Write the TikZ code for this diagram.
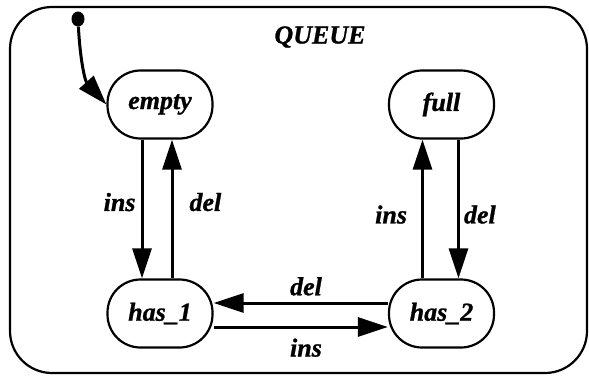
\documentclass[tikz,border=0pt]{standalone}
\usepackage{fontspec}
\setmainfont{Liberation Serif}[BoldItalicFeatures={FakeBold=1}]
\usetikzlibrary{arrows.meta,calc,shapes.geometric}
\tikzset{
    thickest/.style={line width=3pt},
    qstate/.style={draw, line width=2.2pt, rounded corners=33pt,
      minimum width=105pt, minimum height=68pt, inner sep=0pt},
    lbl/.style={inner sep=2pt}
}

\begin{document}
\begin{tikzpicture}[x=1pt,y=1pt,>={Triangle[length=30pt,width=19pt]},
    every node/.style={font=\fontsize{26}{30}\selectfont\bfseries\itshape}]
    \useasboundingbox (0,0) rectangle (589,-375);
    \draw[line width=2.2pt,rounded corners=42pt] (10,-7) rectangle (587,-373);
    \node (title) at (320,-37) {QUEUE};
    % states
    \node[qstate] (empty) at (160,-104.5) {empty};
    \node[qstate] (full) at (441.5,-104.5) {full};
    \node[qstate] (has1) at (160,-313.5) {has\_1};
    \node[qstate] (has2) at (441.5,-313.5) {has\_2};
    \node[ellipse,fill,inner sep=0pt,minimum width=13pt,minimum height=15pt] (init) at (78,-19) {};
    \draw[->,thickest] (init) to[out=-87,in=132] (empty.west);
    % empty <-> has_1
    \draw[->,thickest] ([xshift=-18pt]empty.south) --
    node[lbl,left=3pt,pos=.45] {ins} ([xshift=-18pt]has1.north);
    \draw[->,thickest] ([xshift=12pt]has1.north) --
    node[lbl,right=14pt,pos=.55] {del} ([xshift=12pt]empty.south);
    % full <-> has_2
    \draw[->,thickest] ([xshift=-19pt]has2.north) --
    node[lbl,left=12pt,pos=.46] {ins} ([xshift=-19pt]full.south);
    \draw[->,thickest] ([xshift=17pt]full.south) --
    node[lbl,right=2pt,pos=.54] {del} ([xshift=17pt]has2.north);
    % has_1 <-> has_2
    \draw[->,thickest] ([yshift=10.5pt]has2.west) --
    node[lbl,above=4pt,pos=.47] {del} ([yshift=10.5pt]has1.east);
    \draw[->,thickest] ([yshift=-13.5pt]has1.east) --
    node[lbl,below=8pt,pos=.53] {ins} ([yshift=-13.5pt]has2.west);
\end{tikzpicture}
\end{document}
